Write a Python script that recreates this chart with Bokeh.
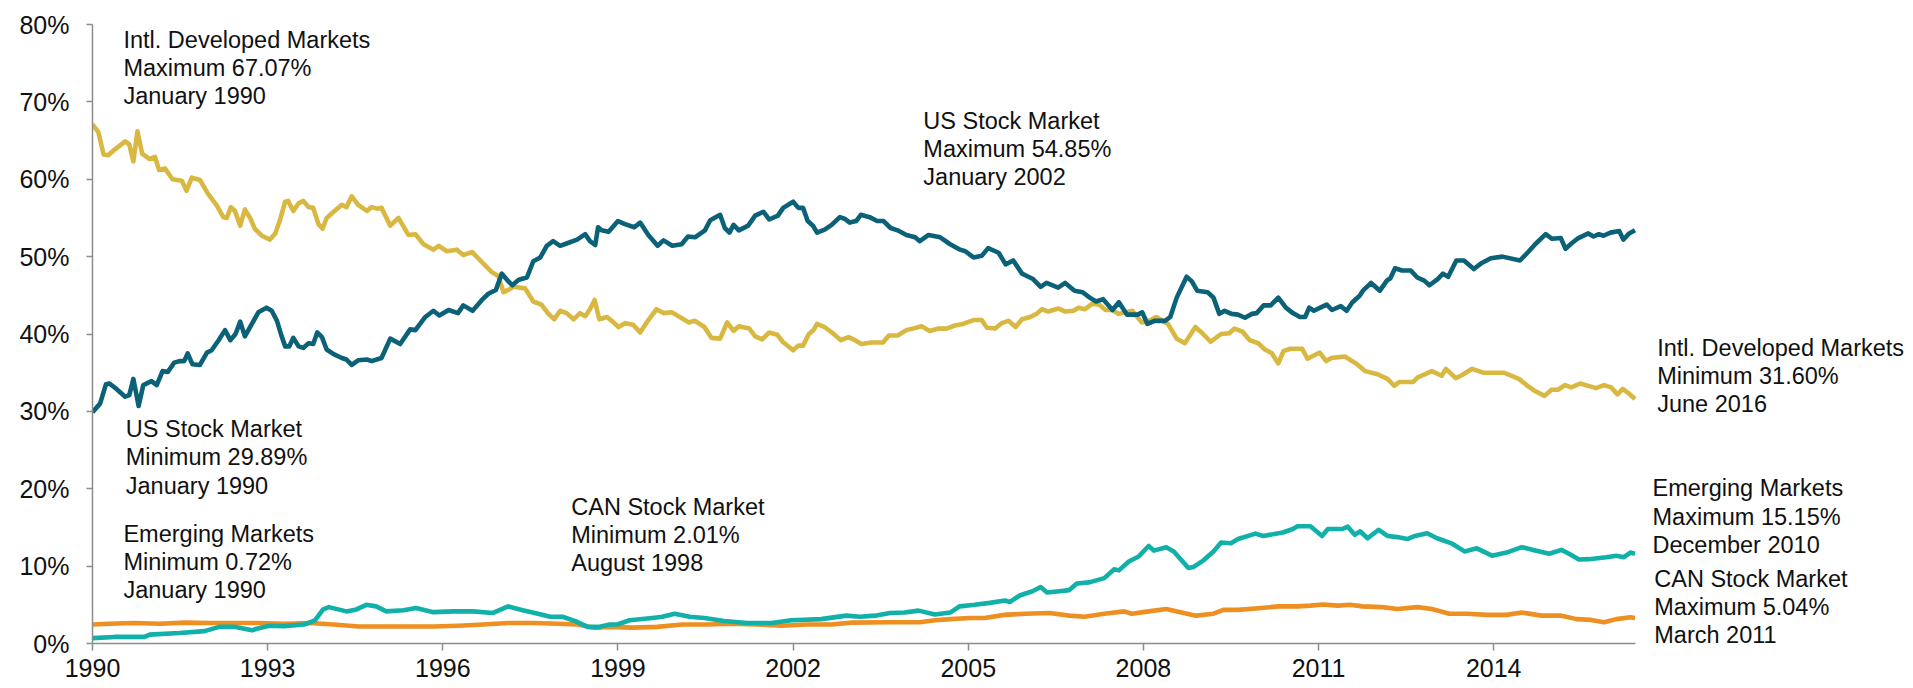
from bokeh.plotting import figure
from bokeh.models import Range1d, FixedTicker, PrintfTickFormatter, Label
from bokeh.embed import file_html
from bokeh.resources import INLINE

# ---------------- data (share of world market cap, %) ----------------
us_dates = [1990.00,1990.13,1990.23,1990.29,1990.41,1990.56,1990.63,1990.70,1990.79,1990.87,
            1991.01,1991.10,1991.20,1991.29,1991.40,1991.50,1991.57,1991.63,1991.71,1991.84,
            1991.96,1992.04,1992.16,1992.27,1992.36,1992.45,1992.53,1992.61,1992.73,1992.84,
            1992.98,1993.07,1993.16,1993.24,1993.30,1993.37,1993.44,1993.53,1993.61,1993.70,
            1993.78,1993.85,1993.93,1994.01,1994.13,1994.27,1994.35,1994.44,1994.55,1994.70,
            1994.78,1994.95,1995.10,1995.27,1995.44,1995.53,1995.70,1995.84,1995.94,1996.10,
            1996.26,1996.35,1996.51,1996.67,1996.78,1996.91,1997.01,1997.10,1997.19,1997.30,
            1997.44,1997.55,1997.67,1997.78,1997.89,1998.01,1998.12,1998.30,1998.44,1998.52,
            1998.61,1998.66,1998.72,1998.84,1999.00,1999.12,1999.28,1999.38,1999.52,1999.68,
            1999.78,1999.93,2000.09,2000.20,2000.32,2000.49,2000.58,2000.75,2000.83,2000.91,
            2000.98,2001.07,2001.23,2001.35,2001.49,2001.59,2001.74,2001.83,2002.00,2002.09,
            2002.17,2002.25,2002.34,2002.41,2002.54,2002.66,2002.80,2002.88,2002.97,2003.08,
            2003.16,2003.31,2003.44,2003.55,2003.67,2003.79,2003.94,2004.09,2004.17,2004.32,
            2004.52,2004.69,2004.86,2004.95,2005.09,2005.23,2005.34,2005.52,2005.64,2005.77,
            2005.92,2006.03,2006.11,2006.24,2006.34,2006.54,2006.66,2006.82,2006.96,2007.08,
            2007.19,2007.31,2007.47,2007.58,2007.72,2007.90,2007.98,2008.07,2008.19,2008.37,
            2008.46,2008.57,2008.74,2008.83,2008.92,2009.10,2009.20,2009.30,2009.39,2009.51,
            2009.62,2009.74,2009.86,2009.94,2010.06,2010.18,2010.31,2010.44,2010.56,2010.68,
            2010.77,2010.84,2010.92,2011.03,2011.14,2011.23,2011.38,2011.48,2011.58,2011.70,
            2011.76,2011.90,2012.05,2012.17,2012.23,2012.31,2012.43,2012.58,2012.69,2012.81,
            2012.90,2013.04,2013.13,2013.22,2013.36,2013.49,2013.66,2013.78,2013.95,2014.15,
            2014.45,2014.59,2014.71,2014.89,2015.00,2015.15,2015.23,2015.33,2015.45,2015.62,
            2015.71,2015.80,2015.88,2016.00,2016.15,2016.22,2016.32,2016.42]
us_vals = [29.9,31.0,33.5,33.6,32.9,31.9,32.1,34.2,30.7,33.4,
           33.9,33.4,35.2,35.1,36.3,36.5,36.5,37.5,36.1,36.0,
           37.6,37.9,39.2,40.5,39.2,40.0,41.6,39.7,41.3,42.8,
           43.4,43.0,41.7,39.7,38.4,38.4,39.5,38.4,38.2,38.8,
           38.7,40.2,39.6,38.0,37.4,36.9,36.7,36.0,36.6,36.7,
           36.5,36.9,39.4,38.7,40.6,40.5,42.2,43.0,42.4,43.1,
           42.7,43.7,43.0,44.4,45.2,45.7,47.8,47.0,46.3,47.0,
           47.3,49.4,49.9,51.4,52.0,51.4,51.7,52.2,52.9,52.0,
           51.5,53.8,53.4,53.2,54.6,54.2,53.8,54.4,52.8,51.4,
           52.1,51.4,51.6,52.6,52.5,53.4,54.7,55.4,53.7,53.1,
           54.1,53.4,54.0,55.3,55.8,54.8,55.3,56.3,57.1,56.3,
           56.3,54.6,54.0,53.1,53.5,54.1,55.1,54.9,54.4,54.6,
           55.4,55.1,54.6,54.6,53.7,53.4,52.8,52.5,52.0,52.8,
           52.5,51.6,50.9,50.7,49.9,50.1,51.1,50.5,49.0,49.5,
           47.8,47.4,47.1,46.1,46.6,46.0,46.6,45.6,45.4,44.7,
           44.2,44.5,43.1,44.1,42.5,42.5,42.8,41.3,41.7,41.7,
           42.2,44.7,47.4,46.8,45.6,45.4,44.7,42.6,43.0,42.6,
           42.5,42.1,42.6,42.7,43.7,43.7,44.7,43.4,42.7,42.2,
           42.2,43.4,43.0,43.4,43.8,43.1,43.6,43.0,44.1,44.9,
           45.6,46.6,45.6,46.9,47.2,48.5,48.2,48.2,47.3,46.9,
           46.3,47.1,47.8,47.4,49.5,49.5,48.4,49.1,49.8,50.0,
           49.5,50.6,51.6,52.9,52.3,52.4,51.0,51.7,52.4,53.0,
           52.6,52.9,52.7,53.1,53.3,52.2,53.0,53.4]

intl_dates = [1990.00,1990.10,1990.19,1990.27,1990.39,1990.56,1990.63,1990.70,1990.77,1990.85,
              1990.98,1991.07,1991.14,1991.24,1991.37,1991.53,1991.61,1991.70,1991.84,1991.98,
              1992.13,1992.24,1992.30,1992.37,1992.44,1992.53,1992.61,1992.70,1992.78,1992.90,
              1993.04,1993.13,1993.21,1993.30,1993.35,1993.44,1993.53,1993.61,1993.70,1993.78,
              1993.87,1993.94,1994.01,1994.13,1994.27,1994.35,1994.44,1994.55,1994.70,1994.78,
              1994.87,1994.95,1995.10,1995.24,1995.41,1995.53,1995.67,1995.84,1995.93,1996.07,
              1996.24,1996.35,1996.50,1996.67,1996.84,1996.95,1997.04,1997.12,1997.21,1997.41,
              1997.55,1997.69,1997.81,1997.91,1998.01,1998.12,1998.24,1998.35,1998.44,1998.52,
              1998.60,1998.68,1998.81,1998.91,1999.01,1999.12,1999.26,1999.38,1999.52,1999.66,
              1999.78,1999.92,2000.06,2000.21,2000.32,2000.48,2000.60,2000.75,2000.87,2000.98,
              2001.07,2001.25,2001.35,2001.47,2001.59,2001.73,2001.82,2002.00,2002.09,2002.17,
              2002.27,2002.35,2002.41,2002.54,2002.68,2002.82,2002.95,2003.06,2003.17,2003.34,
              2003.54,2003.64,2003.79,2003.94,2004.11,2004.20,2004.34,2004.49,2004.63,2004.77,
              2004.91,2005.09,2005.23,2005.32,2005.46,2005.57,2005.69,2005.81,2005.92,2006.06,
              2006.17,2006.26,2006.37,2006.54,2006.66,2006.80,2006.89,2007.00,2007.12,2007.24,
              2007.35,2007.46,2007.58,2007.81,2007.97,2008.07,2008.22,2008.42,2008.57,2008.71,
              2008.89,2009.01,2009.15,2009.33,2009.47,2009.56,2009.70,2009.82,2009.97,2010.08,
              2010.20,2010.31,2010.40,2010.52,2010.72,2010.81,2011.02,2011.13,2011.22,2011.45,
              2011.66,2011.80,2012.01,2012.18,2012.30,2012.38,2012.62,2012.70,2012.94,2013.11,
              2013.18,2013.35,2013.46,2013.63,2013.82,2013.99,2014.17,2014.31,2014.43,2014.58,
              2014.69,2014.87,2014.99,2015.10,2015.22,2015.33,2015.48,2015.62,2015.75,2015.89,
              2016.01,2016.12,2016.21,2016.30,2016.42]
intl_vals = [67.1,66.1,63.2,63.1,63.9,64.9,64.5,62.3,66.2,63.3,
             62.6,62.9,61.2,61.4,60.0,59.8,58.5,60.2,59.9,58.1,
             56.6,55.1,55.0,56.4,55.9,54.0,56.1,55.0,53.6,52.7,
             52.2,53.0,54.7,57.1,57.2,55.9,56.9,57.2,56.4,56.3,
             54.2,53.6,55.0,55.8,56.7,56.4,57.8,56.7,55.9,56.4,
             56.2,56.3,54.0,55.0,52.8,52.9,51.6,50.9,51.4,50.7,
             50.9,50.2,50.6,49.3,48.0,47.5,45.4,45.7,46.1,45.9,
             44.2,43.8,42.6,41.9,43.0,42.7,41.9,42.7,42.3,43.2,
             44.4,41.9,42.2,41.6,40.9,41.4,41.2,40.2,41.8,43.2,
             42.7,42.8,42.2,41.5,41.7,40.9,39.5,39.4,41.5,40.4,
             41.0,40.7,39.7,39.3,40.2,39.9,39.0,37.9,38.5,38.5,
             40.0,40.5,41.3,40.9,40.1,39.2,39.6,39.2,38.7,38.9,
             38.9,39.8,39.8,40.5,40.8,41.0,40.4,40.7,40.7,41.1,
             41.3,41.8,41.8,40.8,40.7,41.4,41.7,40.9,41.9,42.2,
             42.6,43.2,42.9,43.3,42.9,43.0,43.4,43.2,43.9,43.8,
             43.1,43.1,42.6,43.0,41.5,41.6,42.2,41.3,39.4,38.8,
             40.9,40.1,39.0,40.0,40.1,40.7,40.3,39.2,38.8,38.0,
             37.5,36.2,37.8,38.1,38.1,36.8,37.6,36.5,36.9,37.1,
             36.1,35.2,34.8,34.2,33.3,33.8,33.8,34.4,35.2,34.6,
             35.5,34.3,34.7,35.5,35.0,35.0,35.0,34.6,34.2,33.3,
             32.7,32.0,32.8,32.8,33.4,33.1,33.6,33.3,33.0,33.4,
             33.1,32.2,32.9,32.4,31.6]

em_dates = [1990.00,1990.38,1990.89,1990.98,1991.49,1991.92,1992.17,1992.43,1992.73,1992.81,
            1993.03,1993.28,1993.62,1993.81,1993.95,1994.05,1994.35,1994.52,1994.69,1994.86,
            1995.03,1995.33,1995.54,1995.84,1996.18,1996.52,1996.86,1997.12,1997.37,1997.63,
            1997.84,1998.05,1998.27,1998.48,1998.69,1998.86,1998.99,1999.20,1999.59,1999.76,
            1999.97,2000.23,2000.48,2000.82,2001.21,2001.63,2001.97,2002.48,2002.91,2003.15,
            2003.40,2003.66,2003.91,2004.15,2004.43,2004.69,2004.85,2005.11,2005.37,2005.63,
            2005.71,2005.88,2006.10,2006.24,2006.35,2006.56,2006.73,2006.86,2007.07,2007.33,
            2007.50,2007.58,2007.75,2007.92,2008.09,2008.18,2008.39,2008.52,2008.77,2008.86,
            2009.03,2009.20,2009.33,2009.50,2009.62,2009.92,2010.05,2010.39,2010.56,2010.64,
            2010.86,2011.06,2011.16,2011.41,2011.50,2011.62,2011.71,2011.84,2012.03,2012.18,
            2012.35,2012.52,2012.65,2012.86,2013.03,2013.29,2013.50,2013.71,2013.97,2014.22,
            2014.48,2014.73,2014.95,2015.16,2015.29,2015.46,2015.63,2015.93,2016.10,2016.23,
            2016.34,2016.42]
em_vals = [0.7,0.85,0.85,1.15,1.35,1.6,2.15,2.15,1.7,1.9,
           2.3,2.25,2.45,3.0,4.4,4.7,4.15,4.4,5.0,4.8,
           4.15,4.3,4.6,4.05,4.15,4.15,3.95,4.8,4.3,3.85,
           3.45,3.45,2.9,2.15,2.15,2.45,2.45,3.0,3.3,3.45,
           3.85,3.45,3.3,2.9,2.65,2.65,3.0,3.15,3.6,3.45,
           3.6,3.95,4.0,4.25,3.75,4.0,4.8,5.0,5.25,5.55,
           5.35,6.2,6.75,7.3,6.6,6.75,6.9,7.75,7.9,8.45,
           9.6,9.45,10.6,11.25,12.6,12.0,12.45,11.9,9.75,9.9,
           10.75,11.9,13.05,12.95,13.5,14.2,13.9,14.35,14.8,15.15,
           15.15,13.9,14.8,14.8,15.1,14.05,14.5,13.6,14.7,13.9,
           13.75,13.5,13.9,14.25,13.6,12.9,11.9,12.3,11.35,11.75,
           12.45,12.0,11.6,12.1,11.6,10.85,10.9,11.15,11.35,11.15,
           11.75,11.6]

can_dates = [1990.00,1990.29,1990.72,1991.15,1991.58,1992.00,1992.43,1992.85,1993.28,1993.71,
             1994.13,1994.56,1994.99,1995.41,1995.84,1996.27,1996.69,1997.12,1997.54,1997.97,
             1998.31,1998.61,1998.82,1999.25,1999.67,2000.10,2000.53,2000.95,2001.38,2001.80,
             2002.23,2002.66,2003.00,2003.66,2004.17,2004.43,2004.69,2005.03,2005.28,2005.62,
             2005.97,2006.39,2006.73,2006.99,2007.33,2007.67,2007.80,2008.09,2008.39,2008.69,
             2008.90,2009.20,2009.37,2009.62,2009.97,2010.31,2010.65,2010.86,2011.07,2011.33,
             2011.54,2011.75,2012.09,2012.35,2012.69,2012.94,2013.24,2013.54,2013.88,2014.22,
             2014.48,2014.82,2015.16,2015.42,2015.67,2015.89,2016.10,2016.34,2016.42]
can_vals = [2.45,2.55,2.65,2.55,2.7,2.65,2.65,2.65,2.55,2.65,
            2.45,2.2,2.2,2.2,2.2,2.3,2.45,2.65,2.65,2.55,
            2.45,2.01,2.15,2.05,2.15,2.45,2.45,2.55,2.45,2.3,
            2.45,2.45,2.7,2.75,2.75,3.0,3.15,3.3,3.3,3.7,
            3.85,3.95,3.6,3.45,3.85,4.15,3.85,4.15,4.45,3.95,
            3.6,3.85,4.35,4.35,4.55,4.8,4.8,4.9,5.04,4.9,
            5.0,4.8,4.7,4.45,4.7,4.45,3.85,3.85,3.7,3.7,
            4.0,3.6,3.6,3.15,3.05,2.75,3.15,3.4,3.3]

year_ticks = [1990, 1993, 1996, 1999, 2002, 2005, 2008, 2011, 2014]
pct_ticks = [0, 10, 20, 30, 40, 50, 60, 70, 80]

annotation_texts = [
    ["Intl. Developed Markets", "Maximum 67.07%", "January 1990"],
    ["US Stock Market", "Maximum 54.85%", "January 2002"],
    ["US Stock Market", "Minimum 29.89%", "January 1990"],
    ["Emerging Markets", "Minimum 0.72%", "January 1990"],
    ["CAN Stock Market", "Minimum 2.01%", "August 1998"],
    ["Intl. Developed Markets", "Minimum 31.60%", "June 2016"],
    ["Emerging Markets", "Maximum 15.15%", "December 2010"],
    ["CAN Stock Market", "Maximum 5.04%", "March 2011"],
]
# anchor (year, %) of the first text line's baseline -- layout only
annotation_anchor = [
    (1990.53, 78.0), (2004.23, 67.55), (1990.57, 27.7), (1990.53, 14.15), (1998.20, 17.7),
    (2016.80, 38.25), (2016.72, 20.05), (2016.75, 8.35),
]

# ---------------- styling ----------------
US_C, INTL_C, EM_C, CAN_C = "#0B6177", "#D9B842", "#11B0A8", "#EE8F22"
AXIS_C = "#8C8C8C"
FONT = "Liberation Sans"
X_START, X_END = 1990, 2016.42          # plotted period (axis extent)
VIEW_END = 2021.19                       # right-hand room for the labels

p = figure(width=1913, height=688, x_range=Range1d(X_START, VIEW_END), y_range=Range1d(0, 80),
           output_backend="svg", toolbar_location=None,
           min_border_left=92, min_border_right=0, min_border_top=24, min_border_bottom=45)
p.grid.visible = False
p.outline_line_color = None
p.background_fill_color = "white"
p.border_fill_color = "white"

p.line(intl_dates, intl_vals, line_width=4.6, color=INTL_C, line_join="round")
p.line(us_dates, us_vals, line_width=4.6, color=US_C, line_join="round")
p.line(can_dates, can_vals, line_width=4.6, color=CAN_C, line_join="round")
p.line(em_dates, em_vals, line_width=4.6, color=EM_C, line_join="round")

for ax in (p.xaxis[0], p.yaxis[0]):
    ax.axis_line_color = AXIS_C
    ax.axis_line_width = 1.5
    ax.major_tick_line_color = AXIS_C
    ax.major_tick_line_width = 1.5
    ax.major_tick_in = 0
    ax.minor_tick_line_color = None
    ax.major_label_text_font = FONT
    ax.major_label_text_font_size = "25px"
    ax.major_label_text_color = "#111111"

p.xaxis.bounds = (X_START, X_END)
p.xaxis.ticker = FixedTicker(ticks=year_ticks)
p.xaxis.formatter = PrintfTickFormatter(format="%d")
p.xaxis.major_tick_out = 7
p.xaxis.major_label_standoff = 8

p.yaxis.ticker = FixedTicker(ticks=pct_ticks)
p.yaxis.formatter = PrintfTickFormatter(format="%d%%")
p.yaxis.major_tick_out = 6
p.yaxis.major_label_standoff = 17

LINE_GAP = 28.2
for lines, (ax_, ay_) in zip(annotation_texts, annotation_anchor):
    for i, t in enumerate(lines):
        p.add_layout(Label(x=ax_, y=ay_, y_offset=-LINE_GAP * i, text=t,
                           text_font=FONT, text_font_size="23.5px", text_color="#111111",
                           text_align="left", text_baseline="alphabetic"))

open("out.html", "w").write(file_html(p, INLINE))
